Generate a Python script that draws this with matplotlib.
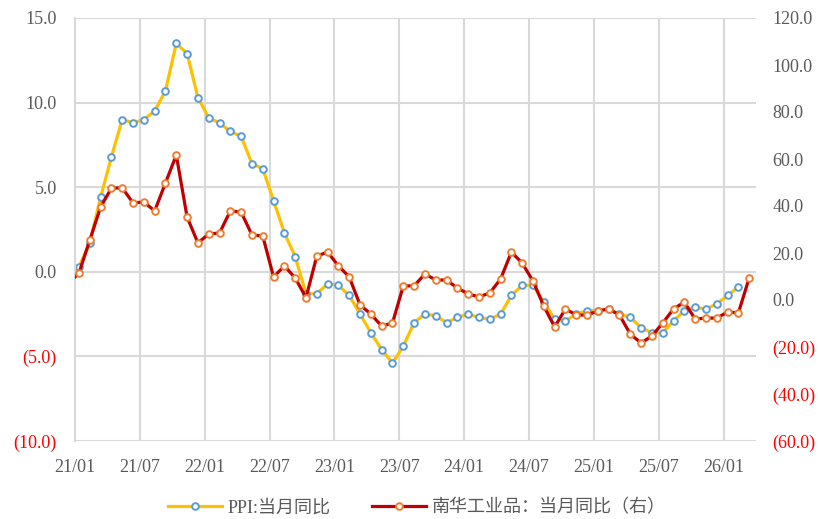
import numpy as np
import matplotlib
matplotlib.use("Agg")
import matplotlib.pyplot as plt

# monthly data from 2020/12 to 2026/03
ppi = [-0.4,
       0.3, 1.7, 4.4, 6.8, 9.0, 8.8, 9.0, 9.5, 10.7, 13.5, 12.9, 10.3,
       9.1, 8.8, 8.3, 8.0, 6.4, 6.1, 4.2, 2.3, 0.9, -1.3, -1.3, -0.7,
       -0.8, -1.4, -2.5, -3.6, -4.6, -5.4, -4.4, -3.0, -2.5, -2.6, -3.0, -2.7,
       -2.5, -2.7, -2.8, -2.5, -1.4, -0.8, -0.8, -1.8, -2.8, -2.9, -2.5, -2.3,
       -2.3, -2.2, -2.5, -2.7, -3.3, -3.6, -3.6, -2.9, -2.3, -2.1, -2.2, -1.9,
       -1.4, -0.9]
nanhua = [7.0,
          11.5, 25.5, 39.6, 47.6, 47.7, 41.3, 41.7, 37.9, 49.8, 61.7, 35.3, 24.3,
          28.1, 28.5, 37.9, 37.4, 27.7, 27.2, 9.8, 14.5, 9.4, 1.0, 18.7, 20.4,
          14.5, 9.8, -2.1, -6.0, -11.1, -9.8, 6.0, 6.0, 11.1, 8.5, 8.5, 5.1,
          2.6, 1.3, 3.0, 8.9, 20.4, 15.7, 8.1, -2.6, -11.5, -3.8, -6.4, -6.4,
          -4.7, -3.8, -6.4, -14.5, -18.3, -15.3, -9.8, -3.8, -0.9, -8.1, -7.7, -7.7,
          -5.1, -5.5, 9.4]
xtick_labels = ["21/01", "21/07", "22/01", "22/07", "23/01", "23/07",
                "24/01", "24/07", "25/01", "25/07", "26/01"]
left_ticks = [15, 10, 5, 0, -5, -10]
right_ticks = [120, 100, 80, 60, 40, 20, 0, -20, -40, -60]

serif = ["Liberation Serif", "Noto Sans CJK SC"]
plt.rcParams["font.family"] = serif

def fmt(v):
    return f"({abs(v):.1f})" if v < 0 else f"{v:.1f}"

x_ppi = np.arange(len(ppi)) - 1 + 0.37
x_nh = np.arange(len(nanhua)) - 1 + 0.37

fig = plt.figure(figsize=(8.18, 5.19), dpi=100)
ax = fig.add_axes([75 / 818, 78 / 519, 681 / 818, 423 / 519])
ax2 = ax.twinx()

ax.plot(x_ppi, ppi, color="#FFC000", lw=2.3, marker="o", ms=4.8,
        mfc="white", mec="#5B9BD5", mew=1.4, label="PPI:当月同比")
ax2.plot(x_nh, nanhua, color="#C00000", lw=2.3, marker="o", ms=4.8,
         mfc="white", mec="#ED7D31", mew=1.4, label="南华工业品：当月同比（右）")

ax.set_xlim(0, 63)
ax.set_ylim(-10, 15)
ax2.set_ylim(-60, 120)

ax.set_xticks(np.arange(0, 61, 6))
ax.set_xticklabels(xtick_labels)
ax.set_yticks(left_ticks)
ax.set_yticklabels([fmt(v) for v in left_ticks])
ax2.set_yticks(right_ticks)
ax2.set_yticklabels([fmt(v) for v in right_ticks])

for a in (ax, ax2):
    a.tick_params(length=0, labelsize=13, labelcolor="#595959")
    for s in a.spines.values():
        s.set_visible(False)
ax.tick_params(axis="y", pad=13)
ax.tick_params(axis="x", pad=13)
ax2.tick_params(axis="y", pad=12)

for lab, v in zip(ax.get_yticklabels(), left_ticks):
    if v < 0:
        lab.set_color("#FF0000")
for lab, v in zip(ax2.get_yticklabels(), right_ticks):
    if v < 0:
        lab.set_color("#FF0000")

ax.grid(True, color="#D9D9D9", lw=1.5)
ax.set_axisbelow(True)
ax.spines["left"].set_visible(True)
ax.spines["left"].set_color("#D9D9D9")
ax.spines["left"].set_linewidth(1.5)

h1, l1 = ax.get_legend_handles_labels()
h2, l2 = ax2.get_legend_handles_labels()
fig.legend(h1 + h2, l1 + l2, loc="center", bbox_to_anchor=(417 / 818, 11 / 519),
           ncol=2, frameon=False, handlelength=3.0, handletextpad=0.3,
           columnspacing=2.3, prop={"family": serif, "size": 13},
           labelcolor="#595959")

fig.savefig("out.png", dpi=100)
